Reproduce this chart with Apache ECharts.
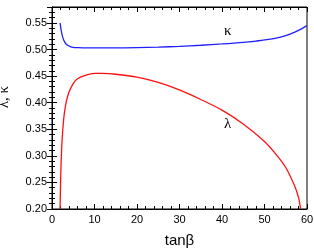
<!DOCTYPE html>
<html><head><meta charset="utf-8">
<script src="https://cdn.jsdelivr.net/npm/echarts@6/dist/echarts.min.js"></script>
<style>html,body{margin:0;padding:0;background:#fff}#c{width:314px;height:250px}</style>
</head><body><div id="c"></div>
<script>
var kappaX = [1.9, 2.2, 2.6, 3.0, 3.5, 4.2, 5, 6, 8, 10, 15, 20, 25, 30, 35, 40, 45, 48, 51, 54, 56, 58, 60];
var kappa  = [0.550, 0.534, 0.521, 0.514, 0.509, 0.506, 0.504, 0.5035, 0.503, 0.503, 0.503, 0.5035, 0.5045, 0.506, 0.508, 0.5105, 0.5135, 0.516, 0.519, 0.524, 0.529, 0.536, 0.545];
var lambdaX = [1.9, 2.05, 2.25, 2.5, 2.9, 3.4, 4, 5, 6, 8, 10, 12, 15, 20, 25, 30, 35, 40, 45, 50, 53, 55, 57, 58, 58.5];
var lambda  = [0.200, 0.260, 0.310, 0.345, 0.380, 0.403, 0.420, 0.436, 0.445, 0.452, 0.455, 0.455, 0.4535, 0.448, 0.438, 0.424, 0.406, 0.386, 0.360, 0.327, 0.300, 0.278, 0.245, 0.222, 0.200];
var xTicks = [0, 10, 20, 30, 40, 50, 60];
var yTicks = [0.20, 0.25, 0.30, 0.35, 0.40, 0.45, 0.50, 0.55];

function pairs(xs, ys){ return xs.map(function(x,i){return [x, ys[i]];}); }
function tick(){ return {show:true, inside:true, length:5, lineStyle:{color:'#000', width:1}}; }
function minor(){ return {show:true, splitNumber:5, length:3, lineStyle:{color:'#000', width:1}}; }
function aline(){ return {show:true, lineStyle:{color:'#000', width:1}}; }

var chart = echarts.init(document.getElementById('c'), null, {renderer:'canvas'});
chart.setOption({
  animation:false,
  grid:{left:52, right:7, top:7, bottom:41, outerBoundsMode:'none',
        show:true, borderColor:'#000', borderWidth:1, backgroundColor:'transparent'},
  xAxis:[{
    type:'value', min:0, max:60, interval:10, position:'bottom',
    axisLine:aline(), axisTick:tick(), minorTick:minor(),
    splitLine:{show:false},
    axisLabel:{color:'#000', fontFamily:'Liberation Sans', fontSize:11, margin:5,
      formatter:function(v){return xTicks.indexOf(v)>=0?String(v):'';}},
    name:'tanβ', nameLocation:'middle', nameGap:24,
    nameTextStyle:{color:'#000', fontFamily:'Liberation Sans', fontSize:15}
  },{
    type:'value', min:0, max:60, interval:10, position:'top',
    axisLine:aline(), axisTick:tick(), minorTick:minor(),
    splitLine:{show:false}, axisLabel:{show:false}
  }],
  yAxis:[{
    type:'value', min:0.20, max:0.58, interval:0.05, position:'left',
    axisLine:aline(), axisTick:tick(), minorTick:minor(),
    splitLine:{show:false},
    axisLabel:{color:'#000', fontFamily:'Liberation Sans', fontSize:11, margin:5,
      formatter:function(v){
        for (var i=0;i<yTicks.length;i++){ if (Math.abs(yTicks[i]-v)<1e-6) return yTicks[i].toFixed(2); }
        return '';
      }},
    name:'λ, κ', nameLocation:'middle', nameGap:40, nameRotate:90,
    nameTextStyle:{color:'#000', fontFamily:'Liberation Serif', fontSize:15, padding:[0,0,0,22]}
  },{
    type:'value', min:0.20, max:0.58, interval:0.05, position:'right',
    axisLine:aline(), axisTick:tick(), minorTick:minor(),
    splitLine:{show:false}, axisLabel:{show:false}
  }],
  series:[{
    type:'line', name:'kappa', xAxisIndex:0, yAxisIndex:0, data:pairs(kappaX, kappa), showSymbol:false, smooth:0.3,
    lineStyle:{color:'#1f1fff', width:1.3}, clip:true
  },{
    type:'line', name:'lambda', xAxisIndex:0, yAxisIndex:0, data:pairs(lambdaX, lambda), showSymbol:false, smooth:0.3,
    lineStyle:{color:'#ff1010', width:1.3}, clip:true
  }],
  graphic:[
    {type:'text', left:224, top:24, style:{text:'κ', fill:'#000', font:'15px "Liberation Serif"'}},
    {type:'text', left:224, top:117, style:{text:'λ', fill:'#000', font:'15px "Liberation Serif"'}}
  ]
});
</script></body></html>
